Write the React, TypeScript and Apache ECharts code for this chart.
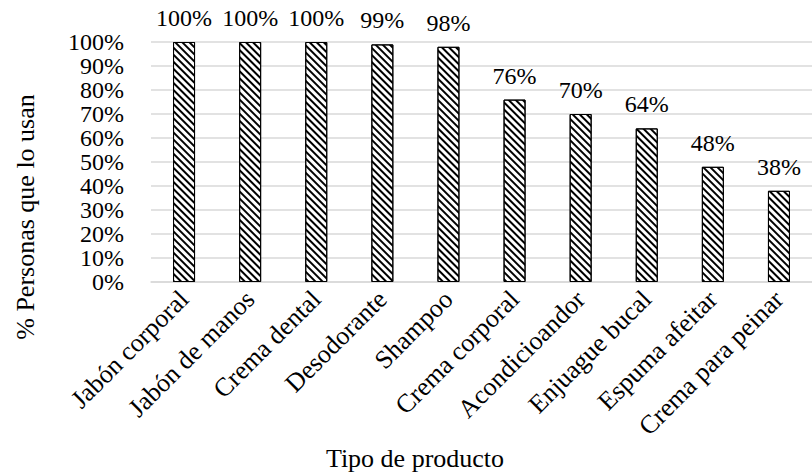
import React, { useEffect, useRef } from "react";
import * as echarts from "echarts";

const categories = [
  "Jabón corporal",
  "Jabón de manos",
  "Crema dental",
  "Desodorante",
  "Shampoo",
  "Crema corporal",
  "Acondicioandor",
  "Enjuague bucal",
  "Espuma afeitar",
  "Crema para peinar",
];
const values = [100, 100, 100, 99, 98, 76, 70, 64, 48, 38];

const yTitle = "% Personas que lo usan";
const xTitle = "Tipo de producto";

const FONT = "'Liberation Serif', 'Times New Roman', serif";

export default function App() {
  const ref = useRef<HTMLDivElement>(null);
  useEffect(() => {
    if (!ref.current) return;
    const chart = echarts.init(ref.current, undefined, { renderer: "svg" });
    chart.setOption({
      animation: false,
      textStyle: { fontFamily: FONT },
      grid: { left: 151, width: 675, top: 42, height: 240 },
      xAxis: {
        type: "category",
        data: categories,
        axisLine: { show: true, lineStyle: { color: "#d9d9d9", width: 1.5 } },
        axisTick: { show: false },
        axisLabel: {
          rotate: 45,
          interval: 0,
          color: "#000",
          fontSize: 26,
          fontFamily: FONT,
          margin: 13,
        },
      },
      yAxis: {
        type: "value",
        min: 0,
        max: 100,
        interval: 10,
        axisLine: { show: false },
        axisTick: { show: false },
        splitLine: { lineStyle: { color: "#d9d9d9", width: 1.5 } },
        axisLabel: {
          formatter: "{value}%",
          color: "#000",
          fontSize: 24,
          fontFamily: FONT,
          margin: 27,
        },
      },
      graphic: [
        {
          type: "text",
          x: 25,
          y: 217,
          rotation: Math.PI / 2,
          style: {
            text: yTitle,
            font: `26px ${FONT}`,
            fill: "#000",
            align: "center",
            verticalAlign: "middle",
          },
        },
        {
          type: "text",
          x: 415,
          y: 458,
          style: {
            text: xTitle,
            font: `26px ${FONT}`,
            fill: "#000",
            align: "center",
            verticalAlign: "middle",
          },
        },
      ],
      series: [
        {
          type: "bar",
          data: values,
          barWidth: 22,
          itemStyle: {
            color: "#fff",
            borderColor: "#000",
            borderWidth: 1,
            decal: {
              symbol: "rect",
              color: "#000",
              backgroundColor: "#fff",
              dashArrayX: [1, 0],
              dashArrayY: [1.2, 2.2],
              rotation: Math.PI / 4,
              symbolSize: 1,
            },
          },
          label: {
            show: true,
            position: "top",
            distance: 12,
            formatter: "{c}%",
            color: "#000",
            fontSize: 24,
            fontFamily: FONT,
          },
        },
      ],
    });
    return () => chart.dispose();
  }, []);
  return <div ref={ref} style={{ width: 812, height: 473, position: "absolute", left: 0, top: 0 }} />;
}
